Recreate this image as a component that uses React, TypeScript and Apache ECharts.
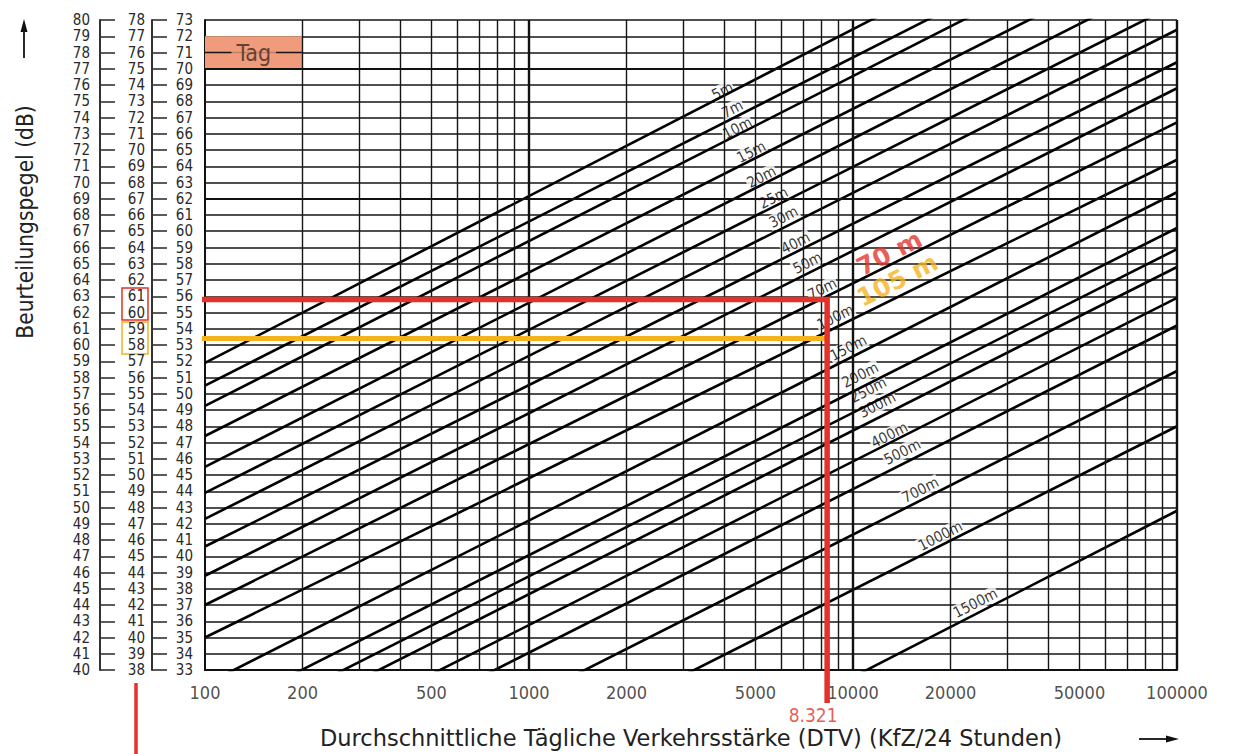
import React, { useEffect, useRef } from "react";
import * as echarts from "echarts";

const FONT = '"DejaVu Sans Condensed", "Liberation Sans Narrow", "DejaVu Sans", sans-serif';
const WIDE_FONT = '"DejaVu Sans", sans-serif';

// Distance lines (level in dB at DTV = 100 and at DTV = 100000)
const distanceNames = ["5m", "7m", "10m", "15m", "20m", "25m", "30m", "40m", "50m", "70m", "100m", "150m", "200m", "250m", "300m", "400m", "500m", "700m", "1000m", "1500m"];
const levelAtDtv100 = [58.9, 57.5, 56.25, 54.4, 52.5, 50.9, 49.3, 47.6, 45.8, 44.0, 42.0, 39.1, 37.0, 35.7, 34.6, 32.7, 31.0, 28.2, 24.8, 19.1];
const levelAtDtv100000 = [89.7, 87.8, 86.7, 84.6, 82.8, 81.0, 79.4, 77.4, 75.8, 73.7, 71.4, 69.4, 67.2, 65.9, 64.8, 62.9, 61.2, 58.4, 55.0, 49.8];

// Where the distance names sit (DTV, dB)
const labelDtv = [3954, 4242, 4395, 4853, 5218, 5683, 6102, 6646, 7236, 8040, 8816, 9668, 10525, 11140, 11880, 12940, 14190, 16130, 18590, 23870];
const labelLevel = [75.63, 74.52, 73.35, 71.88, 70.34, 69.05, 67.88, 66.28, 65.05, 63.45, 61.72, 59.82, 58.15, 57.23, 56.31, 54.46, 53.42, 51.08, 48.25, 44.12];

// X axis
const dtvTickLabels = [100, 200, 500, 1000, 2000, 5000, 10000, 20000, 50000, 100000];
const dtvGridValues = [200, 300, 400, 500, 600, 700, 800, 900, 2000, 3000, 4000, 5000, 6000, 7000, 8000, 9000, 20000, 30000, 40000, 50000, 60000, 70000, 80000, 90000];
const heavyDtvGrid = [1000, 10000, 100000];
const heavyLevelGrid = [69, 77];

// Three level scales
const scale1 = [40, 80];
const scale2 = [38, 78];
const scale3 = [33, 73];

// Worked example
const exampleDtv = 8321;
const exampleDtvText = "8.321";
const exampleLevel70m = 62.8;
const exampleLevel105m = 60.4;
const exampleLeftDtv = 66.9;
const exampleBottomLevel = 37.97;
const tagBox = { dtvFrom: 100, dtvTo: 200, levelFrom: 77, levelMid: 78, levelTo: 79, text: "Tag" };

const RED = "#e4322a";
const ORANGE = "#f6b21d";
const GRID = "#151515";

export default function App() {
  const ref = useRef<HTMLDivElement>(null);

  useEffect(() => {
    document.body.style.margin = "0";
    const chart = echarts.init(ref.current!, null, { renderer: "svg" });

    const distanceSeries = distanceNames.map((name, i) => ({
      name,
      type: "line",
      data: [
        [100, levelAtDtv100[i]],
        [100000, levelAtDtv100000[i]],
      ],
      symbol: "none",
      clip: true,
      silent: true,
      lineStyle: { color: "#000", width: 2.6 },
      z: 4,
    }));

    const markLineData: any[] = [
      ...dtvGridValues.map((v) => ({ xAxis: v })),
      ...heavyDtvGrid.map((v) => ({ xAxis: v, lineStyle: { width: 2.4, color: "#111" } })),
      ...heavyLevelGrid.map((v) => ({ yAxis: v, lineStyle: { width: 2.2, color: "#111" } })),
      [
        { coord: [tagBox.dtvFrom, tagBox.levelMid] },
        { coord: [tagBox.dtvTo, tagBox.levelMid] },
      ],
      [
        { coord: [tagBox.dtvFrom, tagBox.levelFrom], lineStyle: { width: 2.2, color: "#111" } },
        { coord: [tagBox.dtvTo, tagBox.levelFrom] },
      ],
    ];

    const option: any = {
      animation: false,
      grid: { left: 205, right: 56, top: 20, bottom: 84, containLabel: false },
      xAxis: {
        type: "log",
        logBase: 10,
        min: 100,
        max: 100000,
        axisLine: { show: true, onZero: false, lineStyle: { color: "#111", width: 2 } },
        axisTick: { show: false },
        axisLabel: { show: false },
        splitLine: { show: false },
        name: "Durchschnittliche Tägliche Verkehrsstärke (DTV) (KfZ/24 Stunden)",
        nameLocation: "middle",
        nameGap: 56,
        nameTextStyle: { fontSize: 22.5, fontFamily: WIDE_FONT, color: "#222" },
      },
      yAxis: [
        {
          type: "value",
          min: scale1[0],
          max: scale1[1],
          interval: 1,
          position: "left",
          offset: 105,
          axisLine: { show: true, onZero: false, lineStyle: { color: "#333", width: 2 } },
          axisTick: { show: true, inside: true, length: 15, lineStyle: { color: "#333", width: 1.6 } },
          axisLabel: { margin: 10, fontSize: 15, fontFamily: FONT, color: "#2a2a2a" },
          splitLine: { show: true, lineStyle: { color: GRID, width: 1.5 } },
        },
        {
          type: "value",
          min: scale2[0],
          max: scale2[1],
          interval: 1,
          position: "left",
          offset: 53,
          axisLine: { show: true, onZero: false, lineStyle: { color: "#333", width: 2 } },
          axisTick: { show: true, inside: true, length: 15, lineStyle: { color: "#333", width: 1.6 } },
          axisLabel: { margin: 7, fontSize: 15, fontFamily: FONT, color: "#2a2a2a" },
          splitLine: { show: false },
        },
        {
          type: "value",
          min: scale3[0],
          max: scale3[1],
          interval: 1,
          position: "left",
          offset: 0,
          axisLine: { show: true, onZero: false, lineStyle: { color: "#111", width: 2 } },
          axisTick: { show: false },
          axisLabel: { margin: 12, fontSize: 15, fontFamily: FONT, color: "#2a2a2a" },
          splitLine: { show: false },
        },
      ],
      series: [
        {
          name: "tagBox",
          type: "line",
          data: [],
          z: 1,
          silent: true,
          markArea: {
            silent: true,
            itemStyle: { color: "#ef9b7c" },
            label: { show: false },
            data: [[{ xAxis: tagBox.dtvFrom, yAxis: tagBox.levelTo }, { xAxis: tagBox.dtvTo, yAxis: tagBox.levelFrom }]],
          },
        },
        {
          name: "grid",
          type: "line",
          data: [[100, 40]],
          symbol: "none",
          lineStyle: { width: 0 },
          silent: true,
          z: 2,
          markLine: {
            silent: true,
            symbol: ["none", "none"],
            label: { show: false },
            lineStyle: { color: GRID, width: 1.4, type: "solid" },
            data: markLineData,
          },
        },
        {
          name: "distanceLabels",
          type: "scatter",
          data: labelDtv.map((d, i) => [d, labelLevel[i], distanceNames[i]]),
          symbolSize: 1,
          itemStyle: { color: "rgba(0,0,0,0)" },
          silent: true,
          z: 3,
          label: {
            show: true,
            position: "inside",
            formatter: (p: any) => p.value[2],
            rotate: 27,
            fontSize: 15,
            fontFamily: FONT,
            color: "#000",
            backgroundColor: "#fff",
            padding: [0, 1],
          },
        },
        ...distanceSeries,
        {
          name: "105m",
          type: "line",
          data: [
            [exampleLeftDtv, exampleLevel105m],
            [exampleDtv, exampleLevel105m],
          ],
          symbol: "none",
          clip: false,
          silent: true,
          z: 5,
          lineStyle: { color: ORANGE, width: 5 },
        },
        {
          name: "70m",
          type: "line",
          data: [
            [exampleDtv, exampleBottomLevel],
            [exampleDtv, exampleLevel70m],
            [exampleLeftDtv, exampleLevel70m],
          ],
          symbol: "none",
          clip: false,
          silent: true,
          z: 6,
          lineStyle: { color: RED, width: 5.5, join: "miter" },
        },
        {
          name: "annotations",
          type: "scatter",
          symbolSize: 1,
          clip: false,
          silent: true,
          z: 7,
          itemStyle: { color: "rgba(0,0,0,0)" },
          data: [
            {
              value: [12940, 65.66],
              label: { show: true, position: "inside", formatter: "70 m", rotate: 27, fontSize: 25, fontWeight: "bold", fontFamily: WIDE_FONT, color: RED },
            },
            {
              value: [13700, 64.0],
              label: { show: true, position: "inside", formatter: "105 m", rotate: 27, fontSize: 25, fontWeight: "bold", fontFamily: WIDE_FONT, color: ORANGE },
            },
            {
              value: [Math.sqrt(tagBox.dtvFrom * tagBox.dtvTo), tagBox.levelMid],
              label: { show: true, position: "inside", formatter: tagBox.text, fontSize: 23, fontFamily: FONT, color: "#3d2a20", backgroundColor: "#ef9b7c", padding: [0, 5] },
            },
            {
              value: [exampleDtv, exampleBottomLevel],
              label: { show: true, position: "bottom", distance: 2, offset: [-14, 0], formatter: exampleDtvText, fontSize: 19, fontFamily: FONT, color: RED },
            },
          ],
        },
        {
          name: "xTickLabels",
          type: "scatter",
          symbolSize: 1,
          clip: false,
          silent: true,
          itemStyle: { color: "rgba(0,0,0,0)" },
          data: dtvTickLabels.map((v) => [v, scale1[0]]),
          label: {
            show: true,
            position: "bottom",
            distance: 13,
            formatter: (p: any) => String(p.value[0]),
            fontSize: 18,
            fontFamily: FONT,
            color: "#222",
          },
        },
      ],
      graphic: [
        {
          type: "text",
          x: 25,
          y: 222,
          rotation: Math.PI / 2,
          style: { text: "Beurteilungspegel (dB)", fontSize: 22.5, fontFamily: FONT, fill: "#222", align: "center", verticalAlign: "middle" },
        },
        { type: "line", shape: { x1: 24, y1: 58, x2: 24, y2: 30 }, style: { stroke: "#111", lineWidth: 1.8 } },
        { type: "polygon", shape: { points: [[24, 19], [20.5, 32], [27.5, 32]] }, style: { fill: "#111" } },
        { type: "line", shape: { x1: 1139, y1: 739, x2: 1168, y2: 739 }, style: { stroke: "#111", lineWidth: 1.8 } },
        { type: "polygon", shape: { points: [[1179, 739], [1166, 735.5], [1166, 742.5]] }, style: { fill: "#111" } },
        { type: "rect", shape: { x: 122, y: 288, width: 26, height: 32 }, style: { fill: "none", stroke: RED, lineWidth: 1.5 } },
        { type: "rect", shape: { x: 122, y: 322, width: 26, height: 32 }, style: { fill: "none", stroke: ORANGE, lineWidth: 1.5 } },
        { type: "line", shape: { x1: 136, y1: 683, x2: 136, y2: 754 }, style: { stroke: RED, lineWidth: 3.5 } },
      ],
    };

    chart.setOption(option);
    return () => chart.dispose();
  }, []);

  return <div ref={ref} style={{ width: 1233, height: 754 }} />;
}
